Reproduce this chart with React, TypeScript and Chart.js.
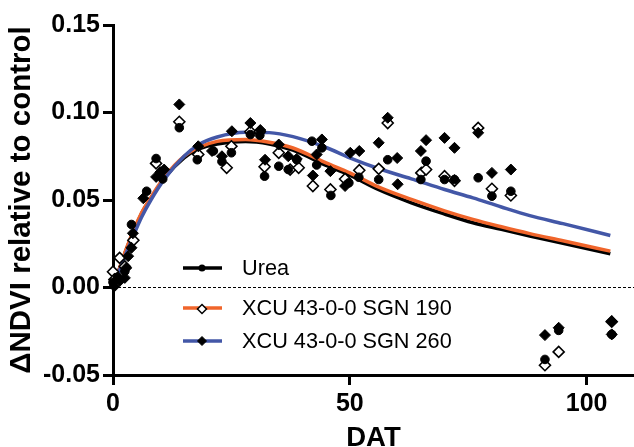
import React, { useEffect, useRef } from 'react';
import { Chart, registerables } from 'chart.js';

Chart.register(...registerables);

const FONT = '"Liberation Sans", Arial, Helvetica, sans-serif';

// ---- Data ----
const seriesNames = ['Urea', 'XCU 43-0-0 SGN 190', 'XCU 43-0-0 SGN 260'];

const ureaDAT = [0, 1, 2.5, 3.9, 7.1, 9.1, 10.5, 14, 17.8, 21.2, 23, 25, 29, 31, 32, 35, 37, 38.8, 42, 43, 44.1, 46, 49.8, 51.9, 56.1, 58, 65, 66.1, 70, 72.1, 77.1, 80, 84, 91.2, 94.1, 105.3];
const ureaVal = [0.003, 0.006, 0.0093, 0.036, 0.055, 0.0737, 0.062, 0.0913, 0.073, 0.078, 0.072, 0.077, 0.0874, 0.087, 0.0636, 0.0693, 0.0674, 0.073, 0.0836, 0.07, 0.0798, 0.0526, 0.0598, 0.063, 0.0617, 0.073, 0.0617, 0.0722, 0.0617, 0.0617, 0.0627, 0.0522, 0.055, -0.0411, -0.0245, -0.0268];

const xcu190DAT = [0, 0.3, 1.4, 2.5, 4.3, 9.1, 14, 18, 24, 25, 29, 31, 32, 35, 37.4, 39.2, 42.2, 45.9, 49, 52, 56.1, 58, 65.1, 66.1, 70, 72.1, 77.1, 80, 84, 91.2, 94.1, 105.3];
const xcu190Val = [0.009, 0.0046, 0.0169, 0.012, 0.027, 0.0709, 0.0947, 0.076, 0.0684, 0.0807, 0.089, 0.089, 0.069, 0.077, 0.0674, 0.0684, 0.058, 0.056, 0.062, 0.067, 0.0678, 0.094, 0.0655, 0.0674, 0.0636, 0.061, 0.0912, 0.0564, 0.0526, -0.0444, -0.0368, -0.0195];

const xcu260DAT = [0.3, 1.5, 2.5, 2.8, 3.2, 3.9, 4.2, 6.4, 9.1, 10, 10.8, 14, 18, 20.9, 23, 25.1, 29, 31.1, 32.1, 35, 37, 38.8, 42.2, 43, 44.1, 45.9, 49, 50.1, 52, 56.1, 58, 60, 60.1, 65, 66.1, 70, 72.1, 77.1, 80, 84, 91.2, 94.1, 105.3, 105.3];
const xcu260Val = [0.0007, 0.004, 0.0055, 0.0112, 0.0179, 0.0227, 0.031, 0.051, 0.0632, 0.0659, 0.0674, 0.1046, 0.0807, 0.078, 0.075, 0.0893, 0.094, 0.09, 0.073, 0.0817, 0.075, 0.0735, 0.064, 0.076, 0.0846, 0.0665, 0.058, 0.077, 0.078, 0.0827, 0.097, 0.074, 0.059, 0.078, 0.0842, 0.0855, 0.0798, 0.0884, 0.0655, 0.0674, -0.0272, -0.023, -0.0193, -0.0268];

// fitted curves, read at these days
const curveDAT = [0, 3, 6, 8, 11, 15, 18, 22, 28, 33, 38, 45, 50, 56, 63, 70, 76, 82, 88, 95, 105];
const ureaFit = [0, 0.023, 0.042, 0.051, 0.063, 0.074, 0.079, 0.082, 0.0834, 0.082, 0.0785, 0.0698, 0.0642, 0.056, 0.0484, 0.042, 0.037, 0.0332, 0.0294, 0.0253, 0.0193];
const xcu190Fit = [0, 0.0235, 0.0425, 0.0515, 0.0636, 0.075, 0.08, 0.0835, 0.0846, 0.083, 0.0797, 0.0712, 0.0655, 0.0575, 0.0503, 0.0438, 0.0389, 0.0347, 0.0308, 0.0267, 0.0208];
const xcu260Fit = [0, 0.021, 0.04, 0.05, 0.0625, 0.075, 0.0815, 0.086, 0.0887, 0.0885, 0.0862, 0.08, 0.0741, 0.068, 0.0621, 0.056, 0.0512, 0.046, 0.0411, 0.0365, 0.0297];

const zeroLineDAT = [0, 110];
const zeroLineVal = [0, 0];

const xRange = [0, 110];
const yRange = [-0.05, 0.15];
const xTicks = [0, 50, 100];
const yTicks = [-0.05, 0, 0.05, 0.1, 0.15];

const COLORS = { urea: '#000000', xcu190: '#F0652B', xcu260: '#4357A7' };

const pts = (xs: number[], ys: number[]) => xs.map((x, i) => ({ x, y: ys[i] }));

function drawDiamond(ctx: CanvasRenderingContext2D, x: number, y: number, r: number, fill: string, stroke: string, lw: number) {
  ctx.beginPath();
  ctx.moveTo(x, y - r);
  ctx.lineTo(x + r, y);
  ctx.lineTo(x, y + r);
  ctx.lineTo(x - r, y);
  ctx.closePath();
  ctx.fillStyle = fill;
  ctx.fill();
  ctx.lineWidth = lw;
  ctx.strokeStyle = stroke;
  ctx.stroke();
}

const legendPlugin = {
  id: 'insideLegend',
  afterDraw(chart: any) {
    const ctx: CanvasRenderingContext2D = chart.ctx;
    const rows = [268, 308, 341];
    const lineColors = [COLORS.urea, COLORS.xcu190, COLORS.xcu260];
    const x0 = 183, x1 = 222, xm = 202, tx = 242;
    ctx.save();
    rows.forEach((ry, i) => {
      ctx.beginPath();
      ctx.moveTo(x0, ry);
      ctx.lineTo(x1, ry);
      ctx.strokeStyle = lineColors[i];
      ctx.lineWidth = 3.5;
      ctx.stroke();
      if (i === 0) {
        ctx.beginPath();
        ctx.arc(xm, ry, 3.5, 0, Math.PI * 2);
        ctx.fillStyle = '#000';
        ctx.fill();
      } else if (i === 1) {
        drawDiamond(ctx, xm, ry + 1, 4.5, '#fff', '#000', 1.5);
      } else {
        drawDiamond(ctx, xm, ry, 4.5, '#000', '#000', 1);
      }
      ctx.fillStyle = '#000';
      ctx.font = `21.7px ${FONT}`;
      ctx.textBaseline = 'middle';
      ctx.textAlign = 'left';
      ctx.fillText(seriesNames[i], tx, ry + 1);
    });
    ctx.restore();
  },
};

export default function App() {
  const ref = useRef<HTMLCanvasElement | null>(null);

  useEffect(() => {
    if (!ref.current) return;
    const chart = new Chart(ref.current, {
      type: 'scatter',
      data: {
        datasets: [
          {
            label: seriesNames[2] + ' points',
            data: pts(xcu260DAT, xcu260Val),
            pointStyle: 'rectRot',
            pointRadius: 5.5,
            backgroundColor: '#000',
            borderColor: '#000',
            borderWidth: 1,
            order: 0,
            clip: false,
          } as any,
          {
            label: seriesNames[0] + ' points',
            data: pts(ureaDAT, ureaVal),
            pointStyle: 'circle',
            pointRadius: 4.3,
            backgroundColor: '#000',
            borderColor: '#000',
            borderWidth: 1,
            order: 1,
            clip: false,
          } as any,
          {
            label: seriesNames[1] + ' points',
            data: pts(xcu190DAT, xcu190Val),
            pointStyle: 'rectRot',
            pointRadius: 5.5,
            backgroundColor: '#fff',
            borderColor: '#000',
            borderWidth: 1.6,
            order: 2,
            clip: false,
          } as any,
          {
            label: seriesNames[2] + ' fit',
            data: pts(curveDAT, xcu260Fit),
            showLine: true,
            pointRadius: 0,
            borderColor: COLORS.xcu260,
            borderWidth: 3.5,
            cubicInterpolationMode: 'monotone',
            order: 3,
          } as any,
          {
            label: seriesNames[1] + ' fit',
            data: pts(curveDAT, xcu190Fit),
            showLine: true,
            pointRadius: 0,
            borderColor: COLORS.xcu190,
            borderWidth: 3.5,
            cubicInterpolationMode: 'monotone',
            order: 4,
          } as any,
          {
            label: seriesNames[0] + ' fit',
            data: pts(curveDAT, ureaFit),
            showLine: true,
            pointRadius: 0,
            borderColor: COLORS.urea,
            borderWidth: 3.5,
            cubicInterpolationMode: 'monotone',
            order: 5,
          } as any,
          {
            label: 'zero',
            data: pts(zeroLineDAT, zeroLineVal),
            showLine: true,
            pointRadius: 0,
            borderColor: '#000',
            borderWidth: 1.2,
            borderDash: [3, 2],
            order: 6,
          } as any,
        ],
      },
      options: {
        animation: false,
        responsive: true,
        maintainAspectRatio: false,
        layout: { autoPadding: false, padding: { top: 25, right: 0, left: 0, bottom: 0 } },
        plugins: {
          legend: { display: false },
          tooltip: { enabled: false },
        },
        scales: {
          x: {
            type: 'linear',
            min: xRange[0],
            max: xRange[1],
            afterBuildTicks: (s: any) => {
              s.ticks = xTicks.map((v) => ({ value: v }));
              s.min = xRange[0];
              s.max = xRange[1];
            },
            afterFit: (s: any) => {
              s.height = 72;
              s.paddingRight = 0;
              s.paddingLeft = 0;
            },
            ticks: {
              color: '#000',
              font: { family: FONT, size: 25, weight: 'bold' },
              padding: 4,
              maxRotation: 0,
              callback: (v: any) => String(v),
            },
            grid: {
              drawOnChartArea: false,
              drawTicks: true,
              tickLength: 10,
              tickWidth: 3,
              tickColor: '#000',
            },
            border: { display: true, color: '#000', width: 3 },
            title: {
              display: true,
              text: 'DAT',
              color: '#000',
              font: { family: FONT, size: 27.5, weight: 'bold', lineHeight: 1.2 },
              padding: { top: 0, bottom: -8 },
            },
          },
          y: {
            type: 'linear',
            min: yRange[0],
            max: yRange[1],
            afterBuildTicks: (s: any) => {
              s.ticks = yTicks.map((v) => ({ value: v }));
              s.min = yRange[0];
              s.max = yRange[1];
            },
            afterFit: (s: any) => {
              s.width = 113;
            },
            ticks: {
              color: '#000',
              font: { family: FONT, size: 25, weight: 'bold' },
              padding: 3,
              callback: (v: any) => Number(v).toFixed(2),
            },
            grid: {
              drawOnChartArea: false,
              drawTicks: true,
              tickLength: 10,
              tickWidth: 3,
              tickColor: '#000',
            },
            border: { display: true, color: '#000', width: 3 },
            title: {
              display: true,
              text: '\u0394NDVI relative to control',
              color: '#000',
              font: { family: FONT, size: 29.5, weight: 'bold', lineHeight: 1.2 },
              padding: { top: 4, bottom: 0 },
            },
          },
        },
      } as any,
      plugins: [legendPlugin],
    });
    return () => chart.destroy();
  }, []);

  return (
    <div style={{ position: 'absolute', left: 0, top: 0, width: 634, height: 447 }}>
      <canvas ref={ref} />
    </div>
  );
}
